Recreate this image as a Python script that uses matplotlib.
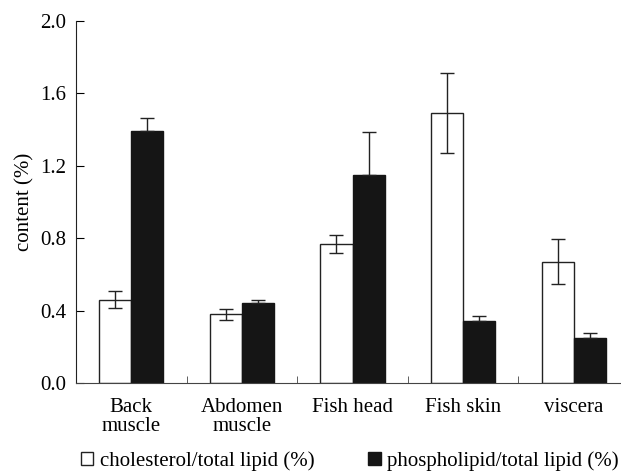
import numpy as np
import matplotlib
matplotlib.use('Agg')
import matplotlib.pyplot as plt

#data
groups = ['Back\nmuscle', 'Abdomen\nmuscle', 'Fish head', 'Fish skin', 'viscera']
chol = [0.46, 0.38, 0.77, 1.49, 0.67]
chol_err = [0.047, 0.03, 0.05, 0.22, 0.125]
phos = [1.39, 0.44, 1.15, 0.345, 0.25]
phos_err = [0.075, 0.016, 0.235, 0.025, 0.027]
yticks = [0.0, 0.4, 0.8, 1.2, 1.6, 2.0]

plt.rcParams['font.family'] = ['Liberation Serif', 'DejaVu Serif']
plt.rcParams['font.size'] = 15

fig = plt.figure(figsize=(6.21, 4.71), dpi=100)
ax = fig.add_axes([0.1224, 0.1868, 0.8905, 0.7686])

x = np.arange(len(groups))
w = 0.29
ekw = dict(ecolor='#222222', elinewidth=1.0, capsize=5, capthick=1.0)
b1 = ax.bar(x - w/2, chol, w, yerr=chol_err, color='white', edgecolor='#222222',
            linewidth=1.0, error_kw=ekw, label='cholesterol/total lipid (%)')
# only the upper half of the black bars' error shows
b2 = ax.bar(x + w/2, phos, w, yerr=[np.zeros(len(phos)), phos_err], color='#151515',
            edgecolor='#151515', linewidth=1.0, error_kw=ekw,
            label='phospholipid/total lipid (%)')

ax.set_xlim(-0.5, len(groups) - 0.5)
ax.set_ylim(0, 2.0)
ax.set_yticks(yticks)
ax.set_yticklabels(['%.1f' % v for v in yticks])
ax.set_xticks(x)
ax.set_xticklabels(groups, linespacing=0.95)
ax.set_xticks(np.arange(0.5, len(groups) - 0.5, 1), minor=True)
ax.tick_params(axis='x', which='major', length=0, pad=11)
ax.tick_params(axis='x', which='minor', direction='in', length=5, color='#444444')
ax.tick_params(axis='y', direction='in', length=6, pad=7)
ax.spines['top'].set_visible(False)
ax.spines['right'].set_visible(False)
ax.spines['left'].set_color('#222222')
ax.spines['bottom'].set_color('#444444')
ax.set_ylabel('content (%)', labelpad=4)

fig.legend(handles=[b1, b2], loc='lower left', bbox_to_anchor=(0.1, -0.04), ncol=2,
           frameon=False, handlelength=0.6, handleheight=0.6, handletextpad=0.3,
           columnspacing=2.6, fontsize=15)

fig.savefig('out.png', dpi=100)
